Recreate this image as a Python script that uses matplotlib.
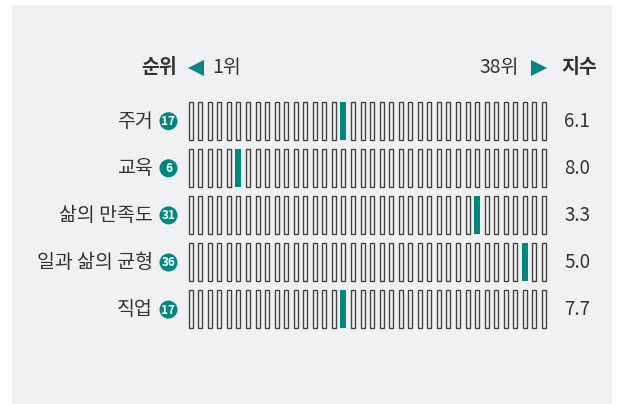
import numpy as np
import matplotlib
matplotlib.use('Agg')
import matplotlib.pyplot as plt
from matplotlib.patches import Rectangle, Circle

plt.rcParams['font.family'] = ['Noto Sans CJK KR', 'DejaVu Sans']

# 데이터
categories = ['주거', '교육', '삶의 만족도', '일과 삶의 균형', '직업']
ranks = [17, 6, 31, 36, 17]
scores = ['6.1', '8.0', '3.3', '5.0', '7.7']
n_countries = 38

teal = '#00877e'
panel = '#f0f1f3'
txt = '#333333'

W, H = 623, 404
fig = plt.figure(figsize=(W / 100, H / 100), dpi=100)
fig.patch.set_facecolor('white')
fig.patches.append(Rectangle((12 / W, 0), 600 / W, 399 / H, transform=fig.transFigure,
                             facecolor=panel, edgecolor='none', zorder=-10))

# 막대 영역 (순위 x 행)
x0, x1 = 185.9, 548.7
y0, y1 = 97.5, 332.5
ax = fig.add_axes([x0 / W, 1 - y1 / H, (x1 - x0) / W, (y1 - y0) / H])
ax.set_xlim(0.5, n_countries + 0.5)
ax.set_ylim(len(categories) - 0.5, -0.5)
ax.axis('off')

pos = np.arange(1, n_countries + 1)
h = 0.82
for i, r in enumerate(ranks):
    others = pos[pos != r]
    ax.bar(others, h, bottom=i - h / 2, width=0.42, facecolor=panel,
           edgecolor='#444444', linewidth=1.0)
    ax.bar([r], h, bottom=i - h / 2, width=0.62, facecolor=teal, edgecolor='none')

# 텍스트 레이어 (픽셀 좌표)
ov = fig.add_axes([0, 0, 1, 1])
ov.set_xlim(0, W)
ov.set_ylim(H, 0)
ov.axis('off')
ov.patch.set_alpha(0)

hy = 67.5
fs = 14
ov.text(177.5, hy, '순위', ha='right', va='center', fontsize=fs, fontweight='bold', color=txt)
ov.plot(195.5, hy, marker='<', color=teal, markersize=11, markeredgewidth=0)
ov.text(212.5, hy, '1위', ha='left', va='center', fontsize=fs, color=txt)
ov.text(518.5, hy, '38위', ha='right', va='center', fontsize=fs, color=txt)
ov.plot(538.5, hy, marker='>', color=teal, markersize=11, markeredgewidth=0)
ov.text(579, hy, '지수', ha='center', va='center', fontsize=fs, fontweight='bold', color=txt)

for i, (c, r, s) in enumerate(zip(categories, ranks, scores)):
    y = 121.2 + i * 47.1
    ov.text(153, y, c, ha='right', va='center', fontsize=fs, color=txt)
    ov.add_patch(Circle((168.5, y), 9, facecolor=teal, edgecolor='none'))
    ov.text(168.5, y + 0.5, str(r), ha='center', va='center', fontsize=8.5,
            fontweight='bold', color='white')
    ov.text(577, y, s, ha='center', va='center', fontsize=13.5, color=txt)

fig.savefig('out.png', dpi=100, facecolor=fig.get_facecolor())
